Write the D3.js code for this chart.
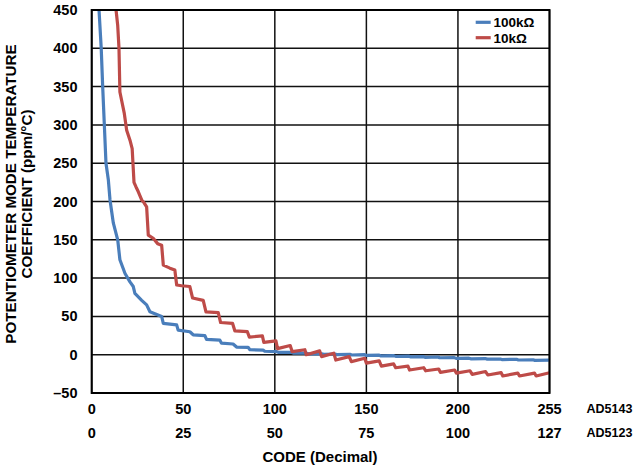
<!DOCTYPE html>
<html>
<head>
<meta charset="utf-8">
<script src="https://cdn.jsdelivr.net/npm/d3@7"></script>
<style>
  html, body { margin: 0; padding: 0; background: #fff; }
  svg { display: block; font-family: "Liberation Sans", Arial, Helvetica, sans-serif; font-weight: bold; }
</style>
</head>
<body>
<svg id="chart" width="634" height="469"></svg>
<script>
// ---------- data ----------
const seriesNames = ["100k\u03A9", "10k\u03A9"];
const seriesColors = ["#4A7EBB", "#BE4B48"];

const code100k = [4.0, 5.2, 6.0, 6.9, 7.8, 9.1, 10.0, 11.8, 14.2, 15.4, 18.2, 20.9, 22.7, 23.6, 27.3, 30.0, 31.8,
  38.2, 39.1, 46.4, 47.2, 53.6, 55.4, 61.8, 62.7, 70.0, 70.9, 77.2, 79.1, 85.4, 86.4, 93.6, 94.5,
  101.1, 102.2, 109.3, 110.4, 117.4, 118.5, 125.6, 126.7, 132.8, 133.8, 141, 142, 149, 150, 157, 158,
  165, 166, 173, 174, 181, 182, 189, 190, 198, 199, 206, 207, 215, 216, 223, 224, 232, 233, 241, 242, 250];
const tc100k = [450, 400, 350, 300, 250, 228, 202, 172, 150, 124, 106, 95, 89, 80, 71, 65, 56,
  50, 41, 39, 32, 30, 26, 25, 20, 19, 15, 14, 10, 9.6, 6.5, 6, 4.5,
  4, 3, 3, 2, 2, 1.2, 1.2, 0.6, 0.8, 0.1, 0.5, -0.4, 0, -1, -0.6, -1.6,
  -1.2, -2.2, -1.8, -2.8, -2.4, -3.4, -3.0, -4.0, -3.8, -4.8, -4.5, -5.4, -5.0, -5.9, -5.6, -6.4, -6.0, -6.9, -6.6, -7.4, -7.2];

const code10k = [13.3, 14.2, 14.9, 15.4, 17.8, 19.1, 20.9, 22.1, 23.1, 24.2, 25.4, 27.3, 28.7, 30.0, 30.9, 33.6, 36.0, 38.2,
  39.1, 42.7, 45.4, 46.4, 49.1, 53.6, 55.1, 60.9, 62.4, 69.1, 70.4, 76.9, 78.2, 85.0, 86.1, 93.2, 94.0,
  100.6, 101.5, 108.4, 109.5, 116.4, 117.2, 124.5, 125.5, 132.2, 133.3, 140.6, 141.8, 149.1, 150.0,
  157.0, 158.2, 164.9, 166.0, 172.7, 173.6, 181.3, 182.4, 189.5, 190.4, 198.2, 199.1, 206.6, 207.8,
  215.1, 216.3, 223.6, 224.5, 232.7, 233.6, 241.8, 242.7, 250];
const tc10k = [450, 430, 400, 343, 315, 293, 280, 269, 225, 219, 213, 202, 198, 193, 156, 152, 145, 143,
  117, 113, 110.5, 91, 90, 89, 74, 71, 56, 55, 42, 41, 31, 30, 23, 24.5, 16,
  18, 8, 12, 4, 6.5, 0, 5, -2.5, 2, -7, -2.5, -9, -4.7, -11,
  -8, -15, -12, -17, -15, -20, -17, -21, -18.7, -23, -20, -24, -21, -25.6,
  -22, -26.5, -23.5, -27.8, -24, -27.8, -24, -27.8, -23.5];

const xTickValues = [0, 50, 100, 150, 200, 250];
const xTickLabelsAD5143 = ["0", "50", "100", "150", "200", "255"];
const xTickLabelsAD5123 = ["0", "25", "50", "75", "100", "127"];
const yTickValues = [-50, 0, 50, 100, 150, 200, 250, 300, 350, 400, 450];
const yTickLabels = ["\u201350", "0", "50", "100", "150", "200", "250", "300", "350", "400", "450"];
const partNames = ["AD5143", "AD5123"];
const xTitle = "CODE (Decimal)";
const yTitleLines = ["POTENTIOMETER MODE TEMPERATURE", "COEFFICIENT (ppm/\u00B0C)"];

// ---------- layout ----------
const L = 91.7, R = 549.5, T = 10, B = 393;
const svg = d3.select("#chart");
const x = d3.scaleLinear().domain([0, 250]).range([L, R]);
const y = d3.scaleLinear().domain([-50, 450]).range([B, T]);

// gridlines
const grid = svg.append("g");
grid.selectAll("line.h").data(yTickValues).enter().append("line")
  .attr("x1", L).attr("x2", R).attr("y1", d => y(d)).attr("y2", d => y(d))
  .attr("stroke", "#111").attr("stroke-width", 1.5);
grid.selectAll("line.v").data(xTickValues).enter().append("line")
  .attr("y1", T).attr("y2", B).attr("x1", d => x(d)).attr("x2", d => x(d))
  .attr("stroke", "#111").attr("stroke-width", 1.5);

// clip
svg.append("clipPath").attr("id", "clip").append("rect")
  .attr("x", L).attr("y", T).attr("width", R - L).attr("height", B - T);

const line = d3.line().x(d => x(d[0])).y(d => y(d[1]));
const series = [
  d3.zip(code100k, tc100k),
  d3.zip(code10k, tc10k)
];
svg.append("g").attr("clip-path", "url(#clip)")
  .selectAll("path").data(series).enter().append("path")
  .attr("d", line)
  .attr("fill", "none")
  .attr("stroke", (d, i) => seriesColors[i])
  .attr("stroke-width", 3.2)
  .attr("stroke-linejoin", "round")
  .attr("stroke-linecap", "butt");

// plot border
svg.append("rect").attr("x", L).attr("y", T).attr("width", R - L).attr("height", B - T)
  .attr("fill", "none").attr("stroke", "#000").attr("stroke-width", 2);

// y tick labels
svg.append("g").selectAll("text").data(yTickValues).enter().append("text")
  .attr("x", 77.5).attr("y", d => y(d) + 5)
  .attr("text-anchor", "end").attr("font-size", 14.5)
  .text((d, i) => yTickLabels[i]);

// x tick labels (two rows)
svg.append("g").selectAll("text").data(xTickValues).enter().append("text")
  .attr("x", d => x(d)).attr("y", 414)
  .attr("text-anchor", "middle").attr("font-size", 14.5)
  .text((d, i) => xTickLabelsAD5143[i]);
svg.append("g").selectAll("text").data(xTickValues).enter().append("text")
  .attr("x", d => x(d)).attr("y", 437.5)
  .attr("text-anchor", "middle").attr("font-size", 14.5)
  .text((d, i) => xTickLabelsAD5123[i]);

// part names
svg.append("g").selectAll("text").data(partNames).enter().append("text")
  .attr("x", 586.5).attr("y", (d, i) => 413.3 + i * 23.4)
  .attr("font-size", 12.5)
  .text(d => d);

// x title
svg.append("text").attr("x", 320).attr("y", 461.5)
  .attr("text-anchor", "middle").attr("font-size", 15)
  .text(xTitle);

// y title
svg.append("g").selectAll("text").data(yTitleLines).enter().append("text")
  .attr("transform", (d, i) => `translate(${16 + i * 15.5},194) rotate(-90)`)
  .attr("text-anchor", "middle").attr("font-size", 15.2)
  .text(d => d);

// legend
const lg = svg.append("g");
seriesNames.forEach((name, i) => {
  const ly = 22.3 + i * 15.4;
  lg.append("line").attr("x1", 475.7).attr("x2", 490.7).attr("y1", ly).attr("y2", ly)
    .attr("stroke", seriesColors[i]).attr("stroke-width", 3.2);
  lg.append("text").attr("x", 493.5).attr("y", ly + 5)
    .attr("font-size", 13.5).text(name);
});
</script>
</body>
</html>
